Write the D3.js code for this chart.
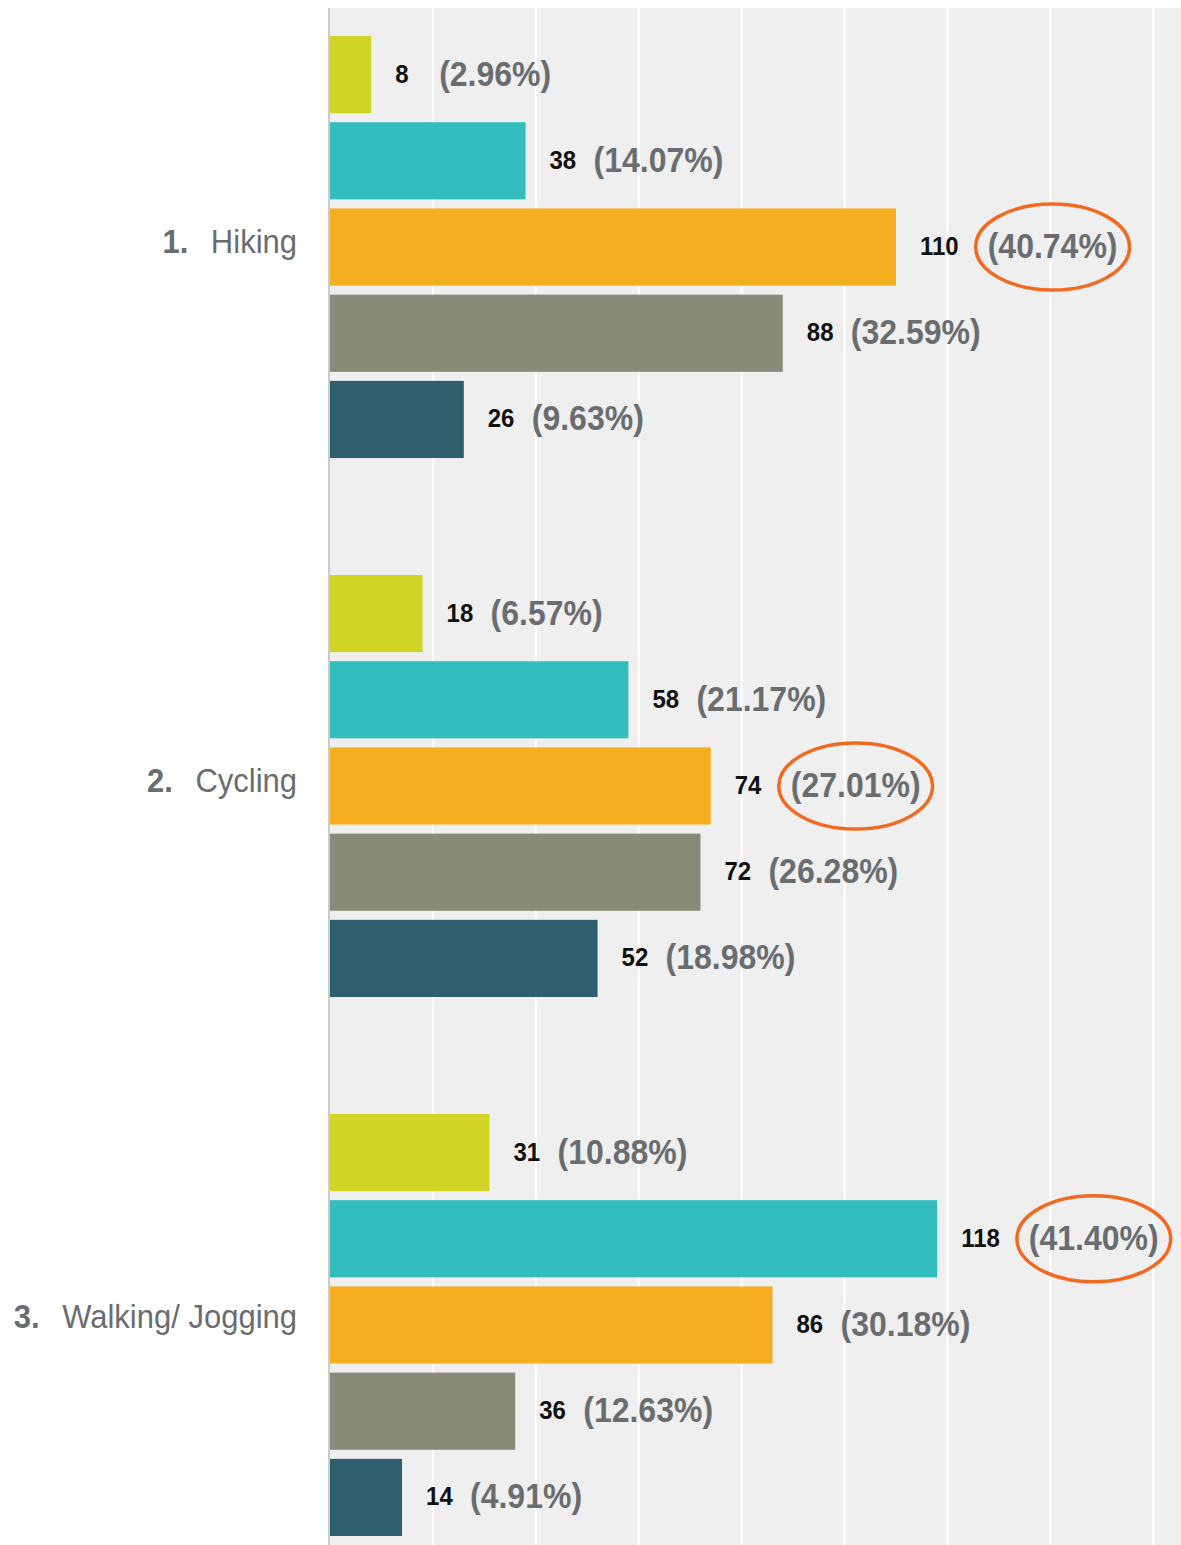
<!DOCTYPE html>
<html>
<head>
<meta charset="utf-8">
<script src="https://cdn.jsdelivr.net/npm/d3@7"></script>
<style>
  body { margin: 0; background: #fff; }
  text { font-family: "Liberation Sans", Arial, Helvetica, sans-serif; }
</style>
</head>
<body>
<div id="chart"></div>
<script>
// ---- data ----
var categories = ["Hiking", "Cycling", "Walking/ Jogging"];
var seriesColors = ["#cfd425", "#33bdbf", "#f5ae1f", "#898a78", "#2e5f6d"];

var hikingCounts   = [8, 38, 110, 88, 26];
var hikingPercents = ["2.96%", "14.07%", "40.74%", "32.59%", "9.63%"];

var cyclingCounts   = [18, 58, 74, 72, 52];
var cyclingPercents = ["6.57%", "21.17%", "27.01%", "26.28%", "18.98%"];

var walkingCounts   = [31, 118, 86, 36, 14];
var walkingPercents = ["10.88%", "41.40%", "30.18%", "12.63%", "4.91%"];

var allCounts = [hikingCounts, cyclingCounts, walkingCounts];
var allPercents = [hikingPercents, cyclingPercents, walkingPercents];

// ---- dimensions ----
var width = 1181, height = 1545;
var textStretch = 1.1;   // reference text is a bit taller than Arial

var svg = d3.select("#chart").append("svg")
    .attr("width", width)
    .attr("height", height);

var x = d3.scaleLinear().domain([0, 165]).range([330, 1179]);
var y0 = d3.scaleBand().domain(categories).range([36, 1536]).paddingInner(0.217);
var y1 = d3.scaleBand().domain(d3.range(seriesColors.length))
    .range([0, y0.bandwidth()]).paddingInner(0.105);

// plot background
svg.append("rect")
    .attr("x", 328).attr("y", 8)
    .attr("width", width - 328).attr("height", height - 8)
    .attr("fill", "#efefef");

// vertical gridlines
svg.append("g").selectAll("line")
    .data(x.ticks(8).filter(function(d) { return d > 0; }))
    .enter().append("line")
    .attr("x1", function(d) { return x(d); })
    .attr("x2", function(d) { return x(d); })
    .attr("y1", 8).attr("y2", height)
    .attr("stroke", "#fff")
    .attr("stroke-width", 2);

// left axis line
svg.append("line")
    .attr("x1", 329).attr("x2", 329)
    .attr("y1", 8).attr("y2", height)
    .attr("stroke", "#cbcbcb")
    .attr("stroke-width", 2);

// build rows
var rows = [];
categories.forEach(function(cat, ci) {
    var maxVal = d3.max(allCounts[ci]);
    allCounts[ci].forEach(function(v, si) {
        rows.push({cat: cat, ci: ci, si: si, value: v, pct: allPercents[ci][si], top: v === maxVal});
    });
});

var groups = svg.append("g").selectAll("g")
    .data(rows)
    .enter().append("g")
    .attr("transform", function(d) { return "translate(0," + (y0(d.cat) + y1(d.si)) + ")"; });

groups.append("rect")
    .attr("x", x(0))
    .attr("y", 0)
    .attr("width", function(d) { return x(d.value) - x(0); })
    .attr("height", y1.bandwidth())
    .attr("fill", function(d) { return seriesColors[d.si]; });

var mid = y1.bandwidth() / 2 - 1;

groups.each(function(d) {
    var g = d3.select(this);
    var cx = x(d.value) + 24;
    var countT = g.append("text")
        .attr("transform", "translate(" + cx + "," + mid + ") scale(1," + textStretch + ")")
        .attr("dy", "0.34em")
        .attr("font-size", 24)
        .attr("font-weight", "bold")
        .attr("fill", "#111")
        .text(d.value);
    var cw = countT.node().getComputedTextLength();
    // percent label sits in a column after a two-digit wide count
    var px = cx + Math.max(cw, 27) + 17 + (d.top ? 12 : 0);
    var pctT = g.append("text")
        .attr("transform", "translate(" + px + "," + mid + ") scale(1," + textStretch + ")")
        .attr("dy", "0.34em")
        .attr("font-size", 32)
        .attr("font-weight", "bold")
        .attr("fill", "#6a6d70")
        .text("(" + d.pct + ")");
    if (d.top) {
        var pw = pctT.node().getComputedTextLength();
        g.append("ellipse")
            .attr("cx", px + pw / 2)
            .attr("cy", mid + 1)
            .attr("rx", pw / 2 + 12)
            .attr("ry", 43)
            .attr("fill", "none")
            .attr("stroke", "#f26a22")
            .attr("stroke-width", 3.5);
    }
});

// category labels
svg.append("g").selectAll("text")
    .data(categories)
    .enter().append("text")
    .attr("transform", function(d, i) {
        var off = i === 2 ? -9 : -6;
        return "translate(297," + (y0(d) + y0.bandwidth() / 2 + off) + ") scale(1," + textStretch + ")";
    })
    .attr("dy", "0.34em")
    .attr("text-anchor", "end")
    .attr("font-size", 31)
    .attr("fill", "#6a6d70")
    .each(function(d, i) {
        var t = d3.select(this);
        t.append("tspan").attr("font-weight", "bold").text((i + 1) + ".");
        t.append("tspan").attr("dx", 14).text(" " + d);
    });
</script>
</body>
</html>
